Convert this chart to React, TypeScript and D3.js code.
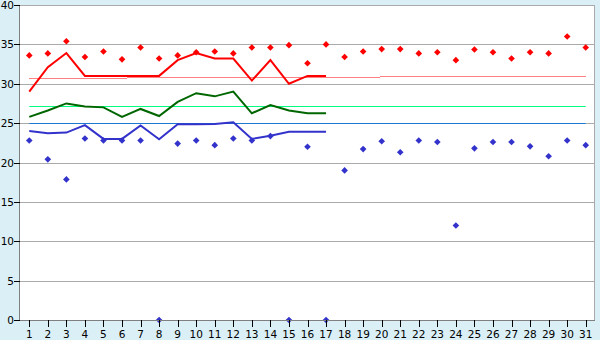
import React from "react";
import * as d3 from "d3";

const days = d3.range(1, 32);
const dayLabels = days.map(String);
const yTicks = [0, 5, 10, 15, 20, 25, 30, 35, 40];

// Lines (days 1..17)
const lineDays = d3.range(1, 18);
const redLine = [29.0, 32.1, 33.9, 31.0, 31.0, 31.0, 31.0, 31.0, 33.0, 33.9, 33.2, 33.2, 30.4, 33.0, 30.0, 31.0, 31.0];
const greenLine = [25.8, 26.6, 27.5, 27.1, 27.0, 25.8, 26.8, 25.9, 27.7, 28.8, 28.4, 29.0, 26.25, 27.3, 26.6, 26.25, 26.25];
const blueLine = [24.0, 23.7, 23.8, 24.75, 23.0, 23.0, 24.7, 22.95, 24.85, 24.85, 24.9, 25.1, 23.0, 23.4, 23.9, 23.9, 23.9];

// Scatter points (days 1..31)
const redDots = [33.6, 33.85, 35.4, 33.4, 34.1, 33.1, 34.6, 33.2, 33.6, 34.0, 34.1, 33.85, 34.6, 34.6, 34.9, 32.6, 35.0, 33.4, 34.1, 34.4, 34.4, 33.85, 34.0, 33.0, 34.35, 34.0, 33.2, 34.0, 33.85, 36.0, 34.6];
const blueDots = [22.8, 20.4, 17.85, 23.05, 22.8, 22.8, 22.8, 0, 22.4, 22.8, 22.2, 23.05, 22.8, 23.35, 0, 22.0, 0, 19.0, 21.7, 22.7, 21.3, 22.8, 22.6, 12.0, 21.8, 22.6, 22.6, 22.05, 20.8, 22.8, 22.2];

// Reference lines
const pinkRef = [30.68, 30.96];
const greenRef = 27.17;
const blueRef = 25.0;

const W = 600;
const H = 340;
const left = 20;
const right = 595;
const top = 5;
const bottom = 320;

const squareDiamond = {
  draw(ctx: any, size: number) {
    const r = Math.sqrt(size / 2);
    ctx.moveTo(0, -r);
    ctx.lineTo(r, 0);
    ctx.lineTo(0, r);
    ctx.lineTo(-r, 0);
    ctx.closePath();
  },
};

export default function App() {
  const x = d3.scaleLinear().domain([0.5, 31.5]).range([left, right]);
  const y = d3.scaleLinear().domain([0, 40]).range([bottom, top]);
  const line = d3
    .line<number>()
    .x((_, i) => x(lineDays[i]))
    .y((d) => y(d));
  const diamond = d3.symbol().type(squareDiamond as any).size(22)()!;
  const font = "DejaVu Sans, Verdana, sans-serif";

  return (
    <svg
      width={W}
      height={H}
      style={{ position: "fixed", left: 0, top: 0, display: "block" }}
    >
      <rect x={0} y={0} width={W} height={H} fill="#daeff6" />
      <rect x={left} y={top} width={right - left} height={bottom - top} fill="#ffffff" />
      {/* gridlines */}
      {yTicks.map((t) => (
        <line
          key={"g" + t}
          x1={left}
          x2={right}
          y1={Math.round(y(t)) + 0.5}
          y2={Math.round(y(t)) + 0.5}
          stroke="#aaaaaa"
          strokeWidth={1}
        />
      ))}
      <line x1={right - 0.5} x2={right - 0.5} y1={top} y2={bottom} stroke="#aaaaaa" />
      {/* reference lines */}
      <line
        x1={x(1)}
        x2={x(31)}
        y1={y(pinkRef[0])}
        y2={y(pinkRef[1])}
        stroke="#ff8080"
        strokeWidth={1}
        shapeRendering="crispEdges"
      />
      <line
        x1={x(1)}
        x2={x(31)}
        y1={Math.round(y(greenRef)) + 0.5}
        y2={Math.round(y(greenRef)) + 0.5}
        stroke="#00ff80"
        strokeWidth={1}
      />
      <line
        x1={x(1)}
        x2={x(31)}
        y1={Math.round(y(blueRef)) + 0.5}
        y2={Math.round(y(blueRef)) + 0.5}
        stroke="#1e78d2"
        strokeWidth={1}
      />
      {/* lines */}
      <path d={line(greenLine)!} fill="none" stroke="#006600" strokeWidth={2} />
      <path d={line(blueLine)!} fill="none" stroke="#3333cc" strokeWidth={2} />
      <path d={line(redLine)!} fill="none" stroke="#ff0000" strokeWidth={2} />
      {/* dots */}
      {redDots.map((v, i) => (
        <path key={"r" + i} d={diamond} transform={`translate(${x(days[i])},${y(v)})`} fill="#ff0000" />
      ))}
      {blueDots.map((v, i) => (
        <path key={"b" + i} d={diamond} transform={`translate(${x(days[i])},${y(v)})`} fill="#3333cc" />
      ))}
      {/* axes */}
      <line x1={left - 0.5} x2={left - 0.5} y1={top} y2={bottom + 1} stroke="#808080" />
      <line x1={left} x2={right} y1={bottom + 0.5} y2={bottom + 0.5} stroke="#808080" />
      {yTicks.map((t) => (
        <g key={"yt" + t}>
          <line
            x1={left - 6}
            x2={left}
            y1={Math.round(y(t)) + 0.5}
            y2={Math.round(y(t)) + 0.5}
            stroke="#000000"
          />
          <text
            x={left - 6}
            y={y(t) + 4}
            textAnchor="end"
            fontFamily={font}
            fontSize={10.5}
            fill="#000000"
          >
            {t}
          </text>
        </g>
      ))}
      {days.map((d, i) => (
        <g key={"xt" + d}>
          <line
            x1={Math.round(x(d)) + 0.5}
            x2={Math.round(x(d)) + 0.5}
            y1={bottom}
            y2={bottom + 7}
            stroke="#000000"
          />
          <text
            x={x(d)}
            y={bottom + 18}
            textAnchor="middle"
            fontFamily={font}
            fontSize={10.5}
            fill="#000000"
          >
            {dayLabels[i]}
          </text>
        </g>
      ))}
    </svg>
  );
}
